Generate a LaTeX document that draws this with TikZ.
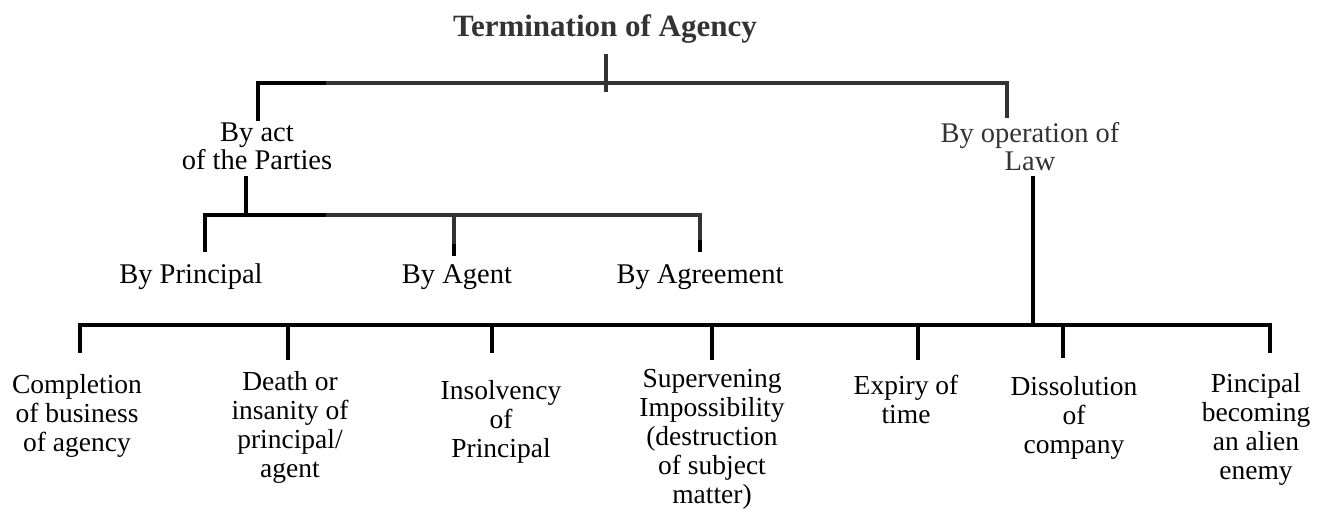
\documentclass[tikz,border=0pt]{standalone}
\usepackage{fontspec}
\setmainfont{Liberation Serif}
\definecolor{darkline}{HTML}{333333}
\begin{document}
\begin{tikzpicture}[x=1pt, y=-1pt]
\tikzset{every node/.style={align=center, inner sep=0pt, anchor=base, font=\fontsize{27.5}{29}\selectfont}}
\tikzset{blackbar/.style={line width=4.5pt, black, line join=miter}}
\tikzset{greybar/.style={line width=4.5pt, darkline, line join=miter}}
\useasboundingbox (0,0) rectangle (1324,511);

% nodes sit on the baseline of their last line
\node[font=\fontsize{31}{35}\selectfont\bfseries, text=darkline] (term) at (605,37) {Termination of Agency};
\node[font=\fontsize{28.5}{28}\selectfont] (act) at (257,169) {By act\\of the Parties};
\node[font=\fontsize{28.5}{28}\selectfont, text=darkline] (law) at (1030,170) {By operation of\\Law};

\node[font=\fontsize{28.5}{28}\selectfont] (prin) at (191,283) {By Principal};
\node[font=\fontsize{28.5}{28}\selectfont] (agent) at (457,283) {By Agent};
\node[font=\fontsize{28.5}{28}\selectfont] (agree) at (700,283) {By Agreement};

\node (comp) at (77,451) {Completion\\of business\\of agency};
\node (death) at (290,477) {Death or\\insanity of\\principal/\\agent};
\node (insol) at (501,457) {Insolvency\\of\\Principal};
\node (super) at (712,503) {Supervening\\Impossibility\\(destruction\\of subject\\matter)};
\node (expiry) at (906,423) {Expiry of\\time};
\node (diss) at (1074,453) {Dissolution\\of\\company};
\node (alien) at (1256,479) {Pincipal\\becoming\\an alien\\enemy};

% first level
\coordinate (ttop) at (606,54);
\coordinate (tbot) at (606,92);
\coordinate (actup) at (258,121);
\coordinate (split1) at (326,83);
\coordinate (lawup) at (1007,118);
\draw[greybar] (ttop) -- (tbot);
\draw[greybar] (split1) -| (lawup);
\draw[blackbar] (actup) |- (split1);

% by act of the parties
\coordinate (actdown) at (246,176);
\coordinate (actbus) at (246,215);
\coordinate (prinup) at (205,252);
\coordinate (split2) at (326,215);
\coordinate (agentbus) at (454,215);
\coordinate (agenttip) at (454,244);
\coordinate (agentup) at (454,256);
\coordinate (agreetip) at (700,240);
\coordinate (agreeup) at (700,252);
\draw[blackbar] (actdown) -- (actbus);
\draw[greybar] (split2) -| (agreetip);
\draw[greybar] (agentbus) -- (agenttip);
\draw[blackbar] (agenttip) -- (agentup);
\draw[blackbar] (agreetip) -- (agreeup);
\draw[blackbar] (prinup) |- (split2);

% by operation of law
\coordinate (lawdown) at (1033,176);
\coordinate (lawbus) at (1033,325);
\coordinate (compup) at (80,353);
\coordinate (alienbus) at (1270,325);
\coordinate (alienup) at (1270,353);
\draw[blackbar] (lawdown) -- (lawbus);
\draw[blackbar] (compup) |- (alienbus) -- (alienup);
\coordinate (b2) at (288,325); \coordinate (deathup) at (288,360);
\coordinate (b3) at (492,325); \coordinate (insolup) at (492,353);
\coordinate (b4) at (712,325); \coordinate (superup) at (712,360);
\coordinate (b5) at (918,325); \coordinate (expiryup) at (918,360);
\coordinate (b6) at (1063,325); \coordinate (dissup) at (1063,358);
\draw[blackbar] (b2) -- (deathup);
\draw[blackbar] (b3) -- (insolup);
\draw[blackbar] (b4) -- (superup);
\draw[blackbar] (b5) -- (expiryup);
\draw[blackbar] (b6) -- (dissup);

\end{tikzpicture}
\end{document}
